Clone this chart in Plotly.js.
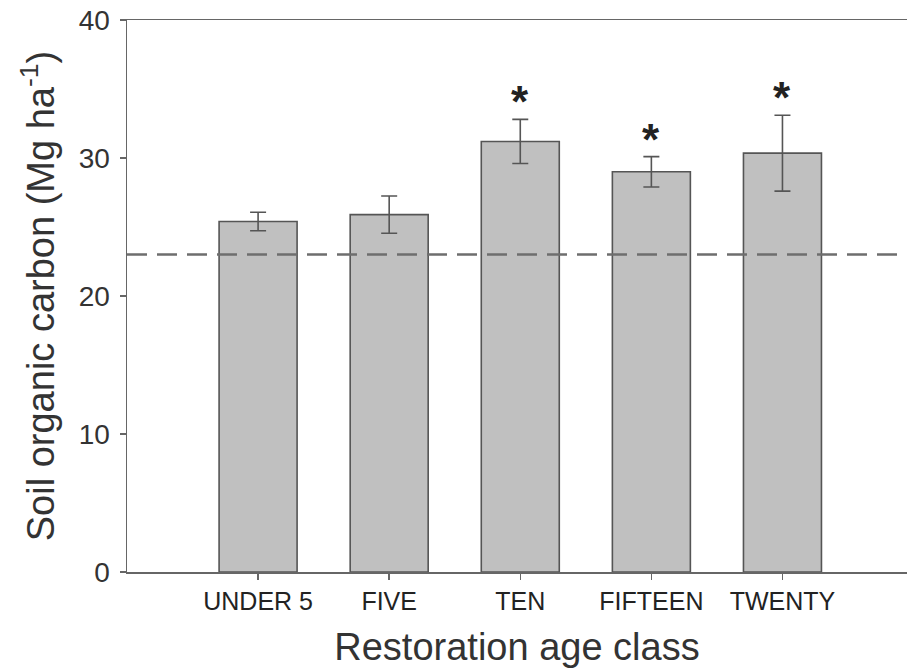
<!DOCTYPE html>
<html>
<head>
<meta charset="utf-8">
<script src="https://cdn.plot.ly/plotly-3.0.1.min.js"></script>
<style>html,body{margin:0;padding:0;background:#fff;}#chart{width:907px;height:669px;}</style>
</head>
<body>
<div id="chart"></div>
<script>
const categories = ["UNDER 5", "FIVE", "TEN", "FIFTEEN", "TWENTY"];
const soc = [25.4, 25.9, 31.2, 29.0, 30.35];
const socErr = [0.67, 1.35, 1.6, 1.1, 2.75];
const significance = ["", "", "*", "*", "*"];
const referenceLevel = 23.0;
const yTicks = [0, 10, 20, 30, 40];

const bars = {
  type: "bar",
  x: categories,
  y: soc,
  marker: { color: "#c0c0c0", line: { color: "#555555", width: 1.6 } },
  error_y: { type: "data", array: socErr, visible: true, color: "#555555", thickness: 1.6, width: 8 },
  hoverinfo: "x+y"
};

const annotations = categories.map((c, i) => ({
  x: c, y: soc[i] + socErr[i], xref: "x", yref: "y",
  text: significance[i], showarrow: false,
  yanchor: "bottom", yshift: -9,
  font: { family: "Liberation Sans, Arial, sans-serif", size: 44, color: "#222222", weight: "bold" }
})).filter((a) => a.text !== "");

const layout = {
  width: 907, height: 669,
  margin: { l: 127, r: 0, t: 20, b: 97 },
  paper_bgcolor: "#ffffff", plot_bgcolor: "#ffffff",
  showlegend: false,
  bargap: 0.405,
  font: { family: "Liberation Sans, Arial, sans-serif", color: "#333333" },
  xaxis: {
    type: "category",
    range: [-1, 4.95],
    showline: true, linecolor: "#666666", linewidth: 1.5, mirror: true,
    ticks: "outside", ticklen: 6, tickcolor: "#666666", tickwidth: 1.5,
    showgrid: false, zeroline: false,
    tickfont: { size: 25, color: "#222222" },
    title: { text: "Restoration age class", font: { size: 38, color: "#333333" }, standoff: 20 }
  },
  yaxis: {
    range: [0, 40],
    tickvals: yTicks,
    showline: true, linecolor: "#666666", linewidth: 1.5,
    ticks: "outside", ticklen: 6, tickcolor: "#666666", tickwidth: 1.5,
    ticklabelstandoff: 4,
    showgrid: false, zeroline: false,
    tickfont: { size: 28, color: "#333333" },
    title: { text: "Soil organic carbon (Mg ha<sup>-1</sup>)", font: { size: 38, color: "#333333" }, standoff: 12 }
  },
  shapes: [{
    type: "line", xref: "paper", x0: 0, x1: 1, yref: "y", y0: referenceLevel, y1: referenceLevel,
    line: { color: "#6e6e6e", width: 2.5, dash: "20px,10px" }, layer: "above"
  }],
  annotations: annotations
};

Plotly.newPlot("chart", [bars], layout, { displayModeBar: false, staticPlot: true });
</script>
</body>
</html>
